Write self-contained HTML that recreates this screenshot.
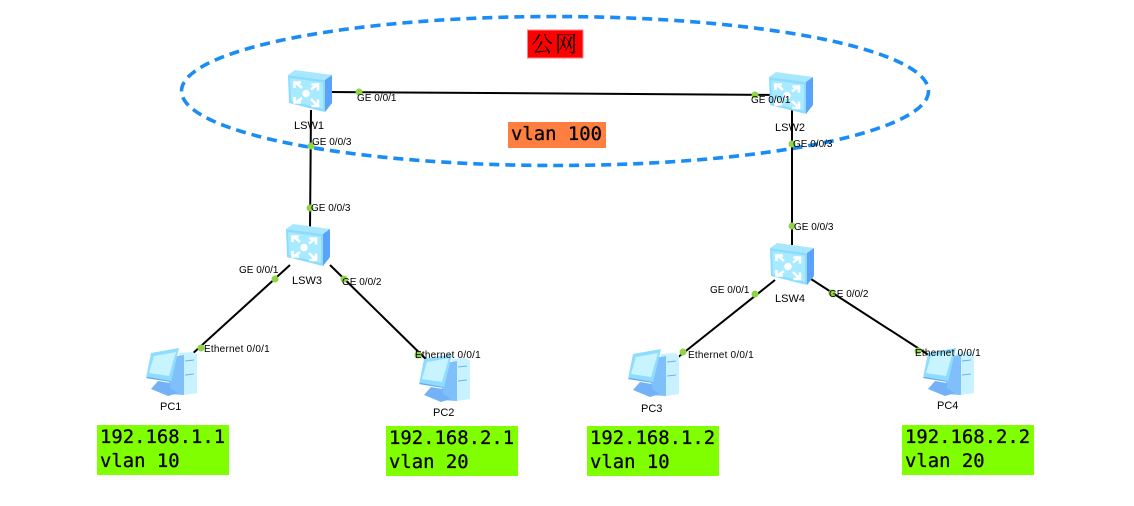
<!DOCTYPE html>
<html><head><meta charset="utf-8"><style>
html,body{margin:0;padding:0;background:#fff}
svg{display:block}
.l{font:10px "Liberation Sans",sans-serif;fill:#000}
.e{letter-spacing:.22px}
.n{font:11px "Liberation Sans",sans-serif;fill:#000}
.m{font:18.9px "DejaVu Sans Mono","Liberation Mono",monospace;fill:#000;stroke:#000;stroke-width:.3}
.c{stroke:#000;stroke-width:2;fill:none}
.d{fill:#8fd448}
</style></head><body>
<svg width="1134" height="506" viewBox="0 0 1134 506" xmlns="http://www.w3.org/2000/svg">
<defs>
<g id="sw">
<path d="M0 5L7 0L44 5L37 10Z" fill="#a8e8ff"/>
<path d="M37 10L44 5V33L37 42Z" fill="#5aa2fa"/>
<path d="M0 5L37 10V42L1 33Z" fill="#8cdcff"/>
<path d="M2 8L35 12.5V39L3 31Z" fill="#a8eaff"/>
<circle cx="18" cy="23.5" r="3.8" fill="#fff"/>
<g stroke="#fff" stroke-width="2.6" fill="none">
<path d="M7 12L14 18M6.5 18V12.5H13"/>
<path d="M30 14L23 19.500M30 20.500V14.500H23.500"/>
<path d="M7 33L14 28M6.500 27V32.500H13"/>
<path d="M30 36L23 29M30 29.500V36H23.500"/>
</g>
</g>
<g id="pc">
<path d="M33 4L47 3L51 6V44L33 46Z" fill="#c8f2ff"/>
<path d="M26 8L38 6V46L22 45Z" fill="#7fc0fb"/>
<path d="M38 6L51 5V44L38 46Z" fill="#c8f2ff"/>
<path d="M39 12L48 11M39 26L48 25" stroke="#6cb2ea" stroke-width="1"/>
<path d="M5 4L33 -1L25 33L0 29Z" fill="#8edcff"/>
<path d="M8 7L30 3L23 27L3 24Z" fill="#c8f4ff"/>
<path d="M2 28L24 32L25 33L0 29Z" fill="#62a4f4"/>
<path d="M12 32L24 34V39L32 44L22 47L5 40Z" fill="#74b2f8"/>
</g>
</defs>
<rect width="1134" height="506" fill="#fff"/>

<ellipse cx="555" cy="91" rx="373.5" ry="74.5" fill="none" stroke="#1a8cf5" stroke-width="3.6" stroke-dasharray="10 6"/>

<rect x="527.500" y="30" width="55.500" height="28" fill="#ff0000" stroke="#ff8080" stroke-width="1"/>
<text x="531" y="52" style="font:22px 'Noto Serif CJK SC','WenQuanYi Zen Hei',serif;letter-spacing:2px" fill="#000">公网</text>
<rect x="508" y="122" width="98" height="26" fill="#ff7f41"/>
<text class="m" x="511" y="140">vlan 100</text>

<path class="c" d="M330 92L790 95"/>
<path class="c" d="M311 110L310 228"/>
<path class="c" d="M792 110V245"/>
<path class="c" d="M290 265L190 356"/>
<path class="c" d="M330 265L437 370"/>
<path class="c" d="M775 280L672 362"/>
<path class="c" d="M811 279L938 361"/>

<use href="#sw" x="288" y="70"/>
<use href="#sw" x="769" y="72"/>
<use href="#sw" x="286" y="224"/>
<use href="#sw" x="770" y="243"/>
<use href="#pc" x="146" y="349"/>
<use href="#pc" x="419" y="355"/>
<use href="#pc" x="628" y="350"/>
<use href="#pc" x="923" y="349"/>

<g class="d">
<circle cx="359" cy="92" r="3.500"/><circle cx="755" cy="95" r="3.500"/>
<circle cx="311" cy="146" r="3.500"/><circle cx="792" cy="144" r="3.500"/>
<circle cx="310" cy="208" r="3.500"/><circle cx="792" cy="226" r="3.500"/>
<circle cx="275" cy="279" r="3.500"/><circle cx="344" cy="279" r="3.500"/>
<circle cx="755" cy="294" r="3.500"/><circle cx="832" cy="293" r="3.500"/>
<circle cx="201" cy="348" r="3.500"/><circle cx="418" cy="355" r="3.500"/>
<circle cx="683" cy="352" r="3.500"/><circle cx="918" cy="351" r="3.500"/>
</g>

<g class="l">
<text x="357" y="101">GE 0/0/1</text>
<text x="751" y="103">GE 0/0/1</text>
<text x="312" y="145">GE 0/0/3</text>
<text x="793" y="147">GE 0/0/3</text>
<text x="311" y="211">GE 0/0/3</text>
<text x="794" y="230">GE 0/0/3</text>
<text x="239" y="273">GE 0/0/1</text>
<text x="342" y="285">GE 0/0/2</text>
<text x="710" y="293">GE 0/0/1</text>
<text x="829" y="297">GE 0/0/2</text>
<text class="e" x="204" y="352">Ethernet 0/0/1</text>
<text class="e" x="415" y="358">Ethernet 0/0/1</text>
<text class="e" x="688" y="358">Ethernet 0/0/1</text>
<text class="e" x="915" y="356">Ethernet 0/0/1</text>
</g>
<g class="n">
<text x="294" y="129">LSW1</text>
<text x="775" y="131">LSW2</text>
<text x="292" y="284">LSW3</text>
<text x="775" y="302">LSW4</text>
<text x="160" y="410">PC1</text>
<text x="433" y="416">PC2</text>
<text x="641" y="412">PC3</text>
<text x="937" y="409">PC4</text>
</g>

<rect x="97" y="425" width="132" height="50" fill="#80ff00"/>
<rect x="386" y="426" width="132" height="50" fill="#80ff00"/>
<rect x="587" y="426" width="132" height="50" fill="#80ff00"/>
<rect x="902" y="425" width="132" height="50" fill="#80ff00"/>
<g class="m">
<text x="100" y="443">192.168.1.1</text><text x="100" y="467">vlan 10</text>
<text x="389" y="444">192.168.2.1</text><text x="389" y="468">vlan 20</text>
<text x="590" y="444">192.168.1.2</text><text x="590" y="468">vlan 10</text>
<text x="905" y="443">192.168.2.2</text><text x="905" y="467">vlan 20</text>
</g>
</svg>
</body></html>
